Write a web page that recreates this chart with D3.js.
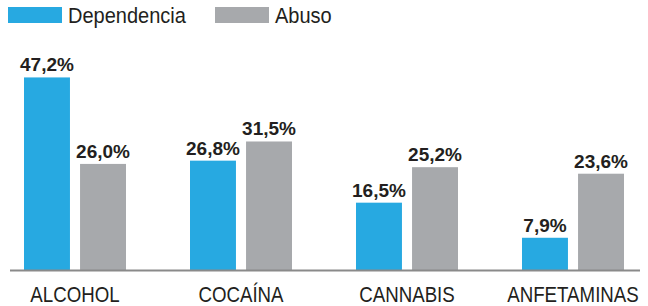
<!DOCTYPE html>
<html><head><meta charset="utf-8">
<script src="https://cdn.jsdelivr.net/npm/d3@7"></script>
<style>body{margin:0;background:#fff}svg{display:block}</style>
</head><body>
<svg id="c" width="648" height="306"></svg>
<script>
const categories = ["ALCOHOL", "COCAÍNA", "CANNABIS", "ANFETAMINAS"];
const series = ["Dependencia", "Abuso"];
const dependencia = [47.2, 26.8, 16.5, 7.9];
const abuso = [26.0, 31.5, 25.2, 23.6];
const colors = ["#27a9e1", "#a7a9ac"];

const values = [dependencia, abuso];
const svg = d3.select("#c");
const base = 270;

const x0 = d3.scaleBand().domain(categories).range([24, 624]).paddingInner(0.3855).paddingOuter(0);
const x1 = d3.scaleBand().domain(series).range([0, x0.bandwidth()]).paddingInner(0.18).paddingOuter(0);
const y = d3.scaleLinear().domain([0, 50]).range([base, base - 204]);
const fmt = v => v.toFixed(1).replace(".", ",") + "%";

const g = svg.append("g");
categories.forEach((c, i) => {
  series.forEach((s, j) => {
    const v = values[j][i];
    const bx = x0(c) + x1(s);
    g.append("rect").attr("x", bx).attr("y", y(v)).attr("width", x1.bandwidth())
      .attr("height", y(0) - y(v)).attr("fill", colors[j]);
    g.append("text").attr("x", bx + x1.bandwidth() / 2).attr("y", y(v) - 6)
      .attr("text-anchor", "middle").attr("font-family", "Liberation Sans, Arial, sans-serif")
      .attr("font-weight", "bold").attr("font-size", 19).attr("fill", "#231f20").text(fmt(v));
  });
});

// axis
svg.append("line").attr("x1", 10).attr("x2", 640).attr("y1", base + 0.5).attr("y2", base + 0.5)
  .attr("stroke", "#8a8a8a").attr("stroke-width", 2);
const ax = d3.axisBottom(x0).tickSize(0).tickPadding(0);
const axg = svg.append("g").attr("transform", `translate(0,${base})`).call(ax);
axg.select(".domain").remove();
axg.selectAll("text").attr("font-family", "Liberation Sans, Arial, sans-serif").attr("font-size", 22)
  .attr("fill", "#231f20").attr("dy", null).attr("y", 32).attr("transform", "scale(0.85,1)");

// legend
const leg = svg.append("g");
const legX = [8, 215];
series.forEach((s, j) => {
  leg.append("rect").attr("x", legX[j]).attr("y", 7).attr("width", 54).attr("height", 16).attr("fill", colors[j]);
  leg.append("text").attr("x", 0).attr("y", 0).attr("font-family", "Liberation Sans, Arial, sans-serif")
    .attr("transform", `translate(${legX[j] + 60},23) scale(0.91,1)`)
    .attr("font-size", 22).attr("fill", "#231f20").text(s);
});
</script>
</body></html>
